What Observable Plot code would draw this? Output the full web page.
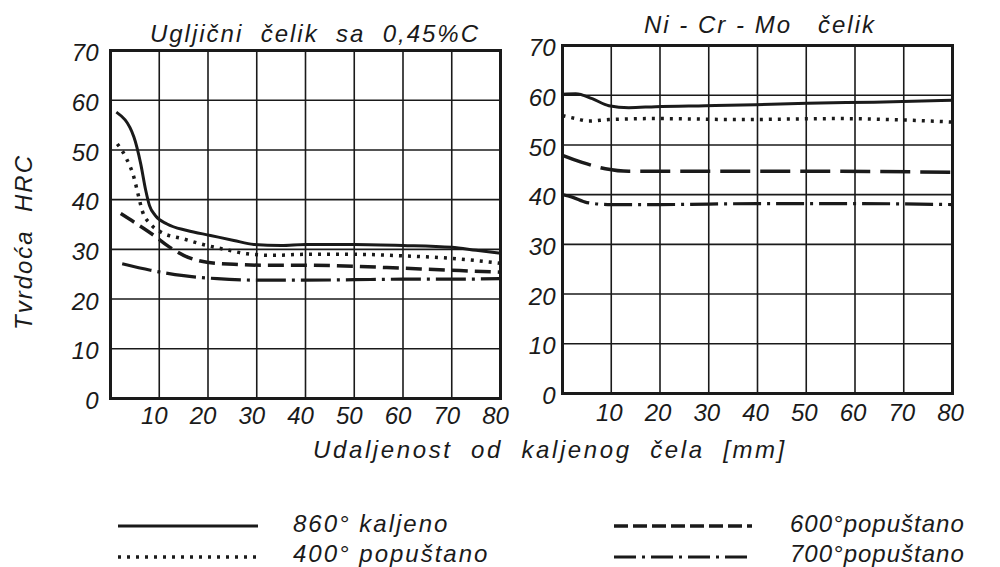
<!DOCTYPE html>
<html><head><meta charset="utf-8">
<script src="https://cdn.jsdelivr.net/npm/d3@7"></script>
<script src="https://cdn.jsdelivr.net/npm/@observablehq/plot@0.6"></script>
<style>
body{margin:0;background:#fff}
#root{position:relative;width:1000px;height:567px;overflow:hidden;background:#fff;font-family:"Liberation Sans",sans-serif;font-style:italic;color:#1a1a1a}
.t{position:absolute;white-space:pre;font-size:24px;line-height:24px;letter-spacing:2px}
#left{position:absolute;left:0;top:0}
#right{position:absolute;left:510px;top:0}
#leg{position:absolute;left:0;top:500px}
</style></head>
<body><div id="root">
<div id="left"></div><div id="right"></div>
<div class="t" style="left:100px;width:430px;text-align:center;top:22px">Ugljični  čelik  sa  0,45%C</div>
<div class="t" style="left:600px;width:320px;text-align:center;top:13px">Ni - Cr - Mo   čelik</div>
<div class="t" style="left:250px;width:600px;text-align:center;top:438px;letter-spacing:2.6px">Udaljenost  od  kaljenog  čela  [mm]</div>
<div class="t" style="left:-76px;width:200px;text-align:center;top:230px;transform:rotate(-90deg)">Tvrdoća  HRC</div>
<svg id="leg" width="1000" height="67"></svg>
<div class="t" id="l1" style="left:293px;top:512px"></div>
<div class="t" id="l2" style="left:293px;top:542px"></div>
<div class="t" id="l3" style="left:790px;top:512px;letter-spacing:1px"></div>
<div class="t" id="l4" style="left:790px;top:542px;letter-spacing:1px"></div>
</div>
<script>
// tick values
const xTicks = [10, 20, 30, 40, 50, 60, 70, 80];
const xGrid = [10, 20, 30, 40, 50, 60, 70];
const yTicks = [0, 10, 20, 30, 40, 50, 60, 70];
const yGrid = [10, 20, 30, 40, 50, 60];
const panelTitles = ["Ugljični čelik sa 0,45%C", "Ni - Cr - Mo čelik"];
const seriesNames = ["860° kaljeno", "400° popuštano", "600°popuštano", "700°popuštano"];

// Carbon steel 0.45%C  [distance mm, HRC]
const carbon860 = [[1.2,57.6],[4.8,52.6],[6.2,47.2],[7.2,42],[8,38.8],[9.2,36.8],[11.6,35.1],[15.7,33.8],[20.5,32.8],[25.3,31.8],[29.4,31],[35,30.8],[40,31],[50,31],[60,30.8],[70,30.4],[75,29.8],[80,29.2]];
const carbon400 = [[1.4,51.2],[3.1,48.6],[4.8,44.5],[5.8,40.5],[6.5,37.8],[8.2,35.1],[10.3,33.5],[15,32.1],[18.5,31.1],[23.9,29.9],[28,29.1],[33.4,28.8],[40,29],[50,29],[60,28.7],[70,28.2],[80,27.2]];
const carbon600 = [[2.1,37.2],[4.8,35.5],[8.9,32.8],[11.6,30.8],[15,28.8],[19.8,27.4],[25.3,27],[32,26.8],[40,26.8],[50,26.6],[60,26.2],[70,25.8],[80,25.4]];
const carbon700 = [[2.4,27.1],[8.2,25.8],[15,24.7],[21.9,24.1],[30.8,23.8],[40,23.8],[50,23.9],[60,24],[70,24],[80,24.1]];

// Ni-Cr-Mo steel
const nicr860 = [[0,60.2],[2.7,60.3],[6.1,59.3],[9.5,57.9],[13.6,57.5],[19.1,57.7],[29.3,57.9],[39.6,58.1],[50.2,58.4],[63.9,58.6],[80,59]];
const nicr400 = [[0,55.9],[2.7,55.3],[5.4,54.8],[9.5,55.1],[19.1,55.3],[36.2,55.1],[57,55.3],[67.3,55.1],[80,54.6]];
const nicr600 = [[0,47.9],[4,46.5],[8.8,45.2],[13.6,44.7],[29.3,44.7],[50,44.7],[80,44.5]];
const nicr700 = [[0,40],[2,39.5],[5,38.4],[10,38],[20,38],[40,38.2],[60,38.2],[80,38]];

const ink = "#1a1a1a";
const font = {fontFamily: "Liberation Sans", fontStyle: "italic", fontSize: 24, fill: ink};

function panel({series, dash, xdx, xdy, ydx, margins}) {
  const styles = [
    {strokeWidth: 3},
    {strokeWidth: 3.5, strokeDasharray: "3,6"},
    {strokeWidth: 3.5, strokeDasharray: dash[0]},
    {strokeWidth: 3.2, strokeDasharray: dash[1]}
  ];
  return Plot.plot({
    width: margins.w, height: 440,
    marginLeft: margins.l, marginRight: margins.r, marginTop: margins.t, marginBottom: 440 - margins.b,
    x: {domain: [0, 80], axis: null},
    y: {domain: [0, 70], axis: null},
    style: {background: "transparent", overflow: "visible"},
    marks: [
      Plot.ruleX(xGrid, {stroke: ink, strokeWidth: 1.6}),
      Plot.ruleY(yGrid, {stroke: ink, strokeWidth: 1.6}),
      Plot.frame({stroke: ink, strokeWidth: 3}),
      ...series.map((s, i) => Plot.line(s, {x: d => d[0], y: d => d[1], curve: "monotone-x", stroke: ink, strokeLinecap: "butt", ...styles[i]})),
      Plot.text(xTicks, {x: d => d, frameAnchor: "bottom", dy: xdy, dx: xdx, lineAnchor: "middle", ...font}),
      Plot.text(yTicks, {y: d => d, frameAnchor: "left", dx: ydx, dy: 3, textAnchor: "end", ...font})
    ]
  });
}

document.getElementById("left").append(panel({
  series: [carbon860, carbon400, carbon600, carbon700],
  dash: ["16,7", "30,6,3,6"], xdx: -5, xdy: 18, ydx: -12,
  margins: {w: 510, l: 110, r: 10, t: 50, b: 398}
}));
document.getElementById("right").append(panel({
  series: [nicr860, nicr400, nicr600, nicr700],
  dash: ["30,10", "28,6,3,6"], xdx: -2, xdy: 20, ydx: -7,
  margins: {w: 490, l: 52, r: 48, t: 45, b: 393}
}));

// legend
const leg = d3.select("#leg");
const legItems = [
  {x1: 118, x2: 258, y: 26, w: 3, dash: null},
  {x1: 118, x2: 258, y: 57, w: 3.5, dash: "3,6"},
  {x1: 614, x2: 752, y: 26, w: 3.5, dash: "14,5"},
  {x1: 614, x2: 752, y: 57, w: 3.2, dash: "22,6,3,6"}
];
legItems.forEach(d => leg.append("line").attr("x1", d.x1).attr("x2", d.x2).attr("y1", d.y).attr("y2", d.y)
  .attr("stroke", ink).attr("stroke-width", d.w).attr("stroke-dasharray", d.dash));
["l1","l2","l3","l4"].forEach((id, i) => document.getElementById(id).textContent = seriesNames[i]);
</script>
</body></html>
